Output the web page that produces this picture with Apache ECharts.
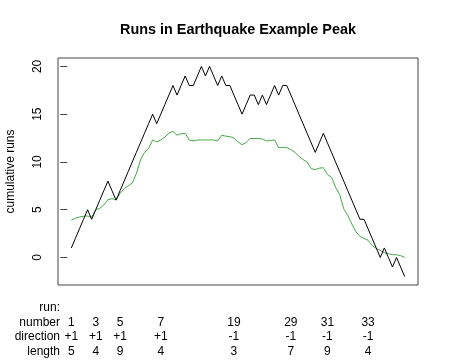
<!DOCTYPE html>
<html><head><meta charset="utf-8">
<script src="https://cdn.jsdelivr.net/npm/echarts@6/dist/echarts.min.js"></script>
<style>html,body{margin:0;padding:0;background:#fff}#c{width:450px;height:360px}</style>
</head><body><div id="c"></div>
<script>
const titleText = 'Runs in Earthquake Example Peak';
const yAxisTitle = 'cumulative runs';
const cumulativeRuns = [1,2,3,4,5,4,5,6,7,8,7,6,7,8,9,10,11,12,13,14,15,14,15,16,17,18,17,18,19,18,18,19,20,19,20,19,18,19,18,18,17,16,15,16,17,17,16,17,16,17,18,17,18,18,17,16,15,14,13,12,11,12,13,12,11,10,9,8,7,6,5,4,4,3,2,1,0,1,0,-1,0,-1,-2];
const smoothed = [3.93,4.1,4.24,4.3,4.35,4.2,5.0,5.15,5.5,6.05,6.15,6.05,6.7,7.2,7.5,7.8,8.8,10.2,11.0,11.4,12.3,12.1,12.3,12.6,13.0,13.2,12.8,12.95,13.0,12.3,12.2,12.3,12.3,12.3,12.3,12.3,12.2,12.8,12.7,12.65,12.5,12.1,11.8,12.05,12.45,12.45,12.45,12.4,12.2,12.25,12.3,11.5,11.5,11.5,11.3,11.0,10.6,10.25,10.0,9.3,9.2,9.35,9.4,8.7,8.4,7.35,6.6,5.1,4.4,3.5,2.7,2.2,2.0,1.8,1.25,0.95,0.75,0.5,0.4,0.3,0.28,0.2,0.0];
const runNumbers = [1,3,5,7,19,29,31,33];
const runStarts = [1,7,13,23,41,55,64,74];
const runDirections = ['+1','+1','+1','+1','-1','-1','-1','-1'];
const runLengths = [5,4,9,4,3,7,9,4];
const rowLabels = ['run:','number','direction','length'];
const yTicks = [0,5,10,15,20];

const FONT = '"Liberation Sans", Arial, Helvetica, sans-serif';
const n = cumulativeRuns.length;
const xPad = 0.04 * (n - 1);
const yMinData = Math.min(...cumulativeRuns), yMaxData = Math.max(...cumulativeRuns);
const yPad = 0.04 * (yMaxData - yMinData);

const chart = echarts.init(document.getElementById('c'), null, {renderer: 'canvas'});
chart.setOption({
  animation: false,
  backgroundColor: '#fff',
  grid: {left: 58, right: 32, top: 58, bottom: 75, containLabel: false, outerBoundsMode: 'none',
         show: true, borderColor: '#444', borderWidth: 1, backgroundColor: 'transparent'},
  xAxis: {type: 'value', min: 1 - xPad, max: n + xPad, show: false},
  yAxis: {
    type: 'value', min: yMinData - yPad, max: yMaxData + yPad,
    name: yAxisTitle, nameLocation: 'middle', nameGap: 41,
    nameTextStyle: {fontFamily: FONT, fontSize: 12, color: '#000'},
    axisLine: {show: false},
    axisTick: {show: true, length: 7, lineStyle: {color: '#444'}, customValues: yTicks},
    axisLabel: {rotate: 90, margin: 14, fontFamily: FONT, fontSize: 12, color: '#000', customValues: yTicks},
    splitLine: {show: false}
  },
  series: [
    {type: 'line', data: cumulativeRuns.map((v, i) => [i + 1, v]), showSymbol: false, symbol: 'none',
     lineStyle: {color: '#000', width: 1}, z: 3},
    {type: 'line', data: smoothed.map((v, i) => [i + 1, v]), showSymbol: false, symbol: 'none',
     lineStyle: {color: '#45a845', width: 1}, z: 2}
  ]
});

const rowY = [308, 323, 337, 352];
const els = [];
els.push({type: 'text', x: 238, y: 30, style: {text: titleText, font: 'bold 14.4px ' + FONT, fill: '#000', textAlign: 'center', textVerticalAlign: 'middle'}});
rowLabels.forEach((t, r) => {
  els.push({type: 'text', x: 60, y: rowY[r], style: {text: t, font: '12px ' + FONT, fill: '#000', textAlign: 'right', textVerticalAlign: 'middle'}});
});
runStarts.forEach((s, k) => {
  const px = chart.convertToPixel({gridIndex: 0}, [s, 0])[0];
  const vals = [String(runNumbers[k]), runDirections[k], String(runLengths[k])];
  vals.forEach((t, r) => {
    els.push({type: 'text', x: px, y: rowY[r + 1], style: {text: t, font: '12px ' + FONT, fill: '#000', textAlign: 'center', textVerticalAlign: 'middle'}});
  });
});
chart.setOption({graphic: {elements: els}});
</script></body></html>
